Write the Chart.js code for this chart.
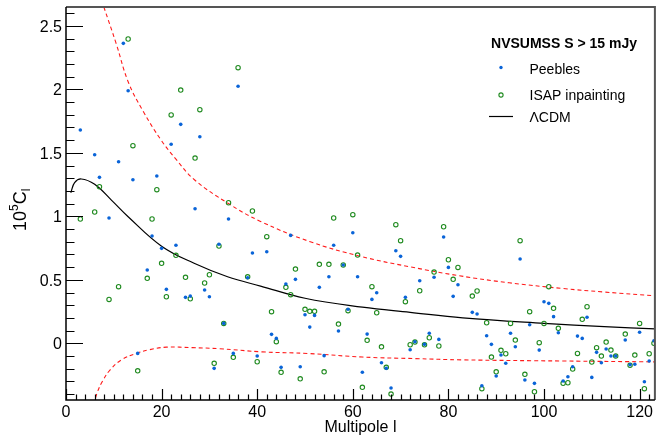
<!DOCTYPE html>
<html>
<head>
<meta charset="utf-8">
<title>NVSUMSS angular power spectrum</title>
<script src="https://cdn.jsdelivr.net/npm/chart.js@4.4.0/dist/chart.umd.min.js"></script>
<style>
  html, body { margin: 0; padding: 0; background: #fff; }
  #wrap { width: 660px; height: 439px; }
</style>
</head>
<body>
<div id="wrap"><canvas id="cl-chart" width="660" height="439"></canvas></div>
<script>
// multipoles with a measured C_l inside the plotted range
const multipoles = [
  3, 6, 7, 9, 11, 12, 13, 14, 15,
  17, 18, 19, 20, 21, 22, 23, 24, 25, 26, 27, 28, 29, 30, 31, 32, 33, 34, 35, 36,
  38, 39, 40,
  42, 43, 44, 45, 46, 47, 48, 49, 50, 51, 52, 53, 54, 55, 56, 57, 58, 59, 60, 61,
  62, 63, 64, 65, 66, 67, 68, 69, 70, 71, 72, 73, 74, 75, 76, 77, 78, 79, 80, 81, 82,
  85, 86, 87, 88, 89, 90, 91, 92, 93, 94, 95, 96, 97, 98, 99, 100, 101, 102, 103,
  104, 105, 106, 107, 108, 109, 110, 111, 112, 113, 114, 115,
  117, 118, 119, 120, 121, 122, 123,
];

// 10^5 C_l, Peebles estimator
const peeblesCl = [
  1.68, 1.485, 1.307, 0.987, 1.43, 2.362, 1.989, 1.288, -0.079,
  0.577, 0.845, 1.317, 0.748, 0.425, 1.567, 0.772, 1.724, 0.362, 0.372, 1.06, 1.627, 0.42, 0.367, -0.197, 0.78, 0.157, 0.979, -0.079, 2.024,
  0.517, 0.711, -0.1,
  0.721, 0.071, 0.039, -0.189, 0.467, 0.85, 0.504, -0.184, 0.225, 0.128, 0.22, 0.441, -0.097, 0.524, 0.772, 0.097, 0.617, 0.268, 0.871, 0.524,
  -0.228, 0.073, 0.346, 0.398, -0.153, -0.197, -0.352, 0.729, 0.685, 0.362, -0.05, 0.013, 0.493, -0.008, 0.079, 0.52, 0.031, 0.837, 0.598, 0.37, 0.461,
  0.244, 0.231, -0.334, 0.06, -0.008, -0.257, -0.092, -0.157, 0.079, -0.027, 0.664, -0.289, 0.146, -0.315, -0.053, 0.328, 0.315, 0.21, 0.083,
  -0.297, -0.263, -0.184, 0.057, 0.039, 0.205, -0.268, -0.071, -0.153, -0.045, -0.1, -0.1,
  0.026, -0.168, -0.165, 0.087, -0.302, -0.139, 0.02,
];

// 10^5 C_l, ISAP inpainting (l = 12 falls outside the range)
const isapCl = [
  0.979, 1.034, 1.233, 0.346, 0.446, null, 2.396, 1.556, -0.216,
  0.512, 0.979, 1.21, 0.63, 0.367, 1.798, 0.693, 1.994, 0.52, 0.351, 1.459, 1.84, 0.475, 0.54, -0.157, 0.766, 0.157, 1.107, -0.11, 2.17,
  0.524, 1.042, -0.145,
  0.84, 0.249, 0.013, -0.228, 0.441, 0.383, 0.585, -0.279, 0.268, 0.252, 0.252, 0.622, -0.224, 0.622, 0.987, 0.152, 0.617, 0.257, 1.013, 0.695,
  -0.346, 0.024, 0.446, 0.241, -0.027, -0.189, -0.399, 0.934, 0.808, 0.328, -0.011, 0.01, 0.414, -0.011, 0.044, 0.561, -0.021, 0.918, 0.658, 0.504, 0.598,
  0.372, 0.412, -0.357, 0.162, -0.108, -0.224, -0.055, -0.082, 0.157, 0.026, 0.808, -0.244, 0.249, -0.381, 0.005, 0.157, 0.446, 0.276, 0.118,
  -0.315, -0.31, -0.202, -0.079, 0.189, 0.288, -0.147, -0.034, -0.1, 0.01, -0.053, -0.1,
  0.073, -0.173, -0.092, 0.157, -0.357, -0.082, 0.0,
];

// LCDM prediction
const lcdmL = [1, 1.8, 3.2, 6, 9.5, 13, 20, 26.8, 33.8, 40.7, 50, 62, 72, 83, 100, 112.6, 123.5];
const lcdmCl = [1.186, 1.265, 1.294, 1.252, 1.128, 0.997, 0.765, 0.63, 0.524, 0.451, 0.355, 0.285, 0.244, 0.2, 0.157, 0.131, 0.113];

// cosmic variance envelope around LCDM
const upperL = [7.9, 10.5, 13, 16.1, 19.9, 23, 26.8, 33.8, 40.7, 51.1, 61.5, 71.9, 82.3, 92.7, 103.9, 112.6, 123.5];
const upperCl = [2.65, 2.36, 2.06, 1.83, 1.6, 1.45, 1.29, 1.105, 0.96, 0.8, 0.686, 0.603, 0.532, 0.477, 0.432, 0.404, 0.374];
const lowerL = [5.8, 6.6, 7.6, 9.2, 11.6, 14.7, 17.5, 21, 26.5, 32, 41, 50.8, 62, 73, 83, 104, 123.5];
const lowerCl = [-0.48, -0.38, -0.3, -0.21, -0.13, -0.079, -0.05, -0.03, -0.034, -0.042, -0.067, -0.08, -0.108, -0.12, -0.13, -0.139, -0.146];

const xTicks = [0, 20, 40, 60, 80, 100, 120];
const yTicks = [0, 0.5, 1, 1.5, 2, 2.5];

const FONT = '"Liberation Sans", Arial, Helvetica, sans-serif';
const BLUE = "#0a64d8";
const GREEN = "#1f8a1f";

function toPoints(ls, vals) {
  return ls.map((l, i) => ({ x: l, y: vals[i] }));
}

// ROOT-like frame: inward ticks, labels, titles and the legend box
const rootFrame = {
  id: "rootFrame",
  afterDraw(chart) {
    const { ctx, chartArea: a } = chart;
    const xs = chart.scales.x;
    const ys = chart.scales.y;
    ctx.save();

    ctx.strokeStyle = "#555";
    ctx.lineWidth = 2;
    ctx.beginPath();
    ctx.moveTo(a.left, a.top);
    ctx.lineTo(a.right, a.top);
    ctx.lineTo(a.right, a.bottom);
    ctx.stroke();

    ctx.strokeStyle = "#000";
    ctx.lineWidth = 1.5;
    ctx.beginPath();
    ctx.moveTo(a.left, a.top);
    ctx.lineTo(a.left, a.bottom);
    ctx.lineTo(a.right, a.bottom);
    ctx.stroke();

    // y ticks every 0.1, long ones on the labelled values
    ctx.lineWidth = 1.2;
    ctx.beginPath();
    for (let i = Math.ceil(ys.min * 10); i <= Math.floor(ys.max * 10); i++) {
      const py = Math.round(ys.getPixelForValue(i / 10)) + 0.5;
      const len = i % 5 === 0 ? 17 : 8.5;
      ctx.moveTo(a.left, py);
      ctx.lineTo(a.left + len, py);
    }
    // x ticks every 2
    for (let l = 0; l <= xs.max; l += 2) {
      const px = Math.round(xs.getPixelForValue(l)) + 0.5;
      const len = l % 20 === 0 ? 11 : 5.5;
      ctx.moveTo(px, a.bottom);
      ctx.lineTo(px, a.bottom - len);
    }
    ctx.stroke();

    ctx.fillStyle = "#000";
    ctx.font = "16px " + FONT;
    ctx.textAlign = "right";
    ctx.textBaseline = "alphabetic";
    yTicks.forEach((v) => {
      ctx.fillText(String(v), a.left - 4, ys.getPixelForValue(v) + 6);
    });
    ctx.textAlign = "center";
    xTicks.forEach((v) => {
      ctx.fillText(String(v), xs.getPixelForValue(v), a.bottom + 17);
    });

    ctx.fillText("Multipole l", (a.left + a.right) / 2, 432);

    // 10^5 C_l, rotated
    ctx.save();
    ctx.translate(26, 231);
    ctx.rotate(-Math.PI / 2);
    ctx.textAlign = "left";
    let cx = 0;
    ctx.font = "18px " + FONT;
    ctx.fillText("10", cx, 0);
    cx += ctx.measureText("10").width;
    ctx.font = "12px " + FONT;
    ctx.fillText("5", cx, -8);
    cx += ctx.measureText("5").width;
    ctx.font = "18px " + FONT;
    ctx.fillText("C", cx, 0);
    cx += ctx.measureText("C").width;
    ctx.font = "12px " + FONT;
    ctx.fillText("l", cx, 4);
    ctx.restore();

    // legend
    ctx.textAlign = "center";
    ctx.font = "bold 14px " + FONT;
    ctx.fillText("NVSUMSS S > 15 mJy", 564, 47.5);
    ctx.textAlign = "left";
    ctx.font = "14px " + FONT;
    ctx.fillText("Peebles", 529.5, 73.5);
    ctx.fillText("ISAP inpainting", 529.5, 99.5);
    ctx.fillText("\u039BCDM", 529.5, 122);

    ctx.fillStyle = BLUE;
    ctx.beginPath();
    ctx.arc(501, 67.5, 1.7, 0, Math.PI * 2);
    ctx.fill();
    ctx.strokeStyle = GREEN;
    ctx.lineWidth = 1.1;
    ctx.beginPath();
    ctx.arc(501, 95, 2.1, 0, Math.PI * 2);
    ctx.stroke();
    ctx.strokeStyle = "#000";
    ctx.lineWidth = 1.2;
    ctx.beginPath();
    ctx.moveTo(489, 116.5);
    ctx.lineTo(513, 116.5);
    ctx.stroke();

    ctx.restore();
  },
};

const canvas = document.querySelector("#cl-chart");

const curveStyle = {
  showLine: true,
  pointRadius: 0,
  tension: 0.4,
  order: 1,
};

const chart = new Chart(canvas, {
  type: "scatter",
  data: {
    datasets: [
      {
        label: "Peebles",
        data: toPoints(multipoles, peeblesCl),
        backgroundColor: BLUE,
        borderColor: BLUE,
        borderWidth: 0,
        pointRadius: 1.8,
        order: 0,
      },
      {
        label: "ISAP inpainting",
        data: toPoints(multipoles, isapCl),
        backgroundColor: "rgba(0,0,0,0)",
        borderColor: GREEN,
        borderWidth: 1.1,
        pointRadius: 2.2,
        order: 0,
      },
      {
        ...curveStyle,
        label: "\u039BCDM",
        data: toPoints(lcdmL, lcdmCl),
        borderColor: "#000",
        borderWidth: 1.2,
      },
      {
        ...curveStyle,
        label: "upper",
        data: toPoints(upperL, upperCl),
        borderColor: "#ff1a1a",
        borderWidth: 1.1,
        borderDash: [4, 3],
      },
      {
        ...curveStyle,
        label: "lower",
        data: toPoints(lowerL, lowerCl),
        borderColor: "#ff1a1a",
        borderWidth: 1.1,
        borderDash: [4, 3],
      },
    ],
  },
  options: {
    responsive: false,
    animation: false,
    devicePixelRatio: 1,
    layout: { padding: { left: 66, right: 1, top: 7, bottom: 39 } },
    plugins: {
      legend: { display: false },
      tooltip: { enabled: false },
    },
    scales: {
      x: { type: "linear", min: 0, max: 123.2, display: false },
      y: { type: "linear", min: -0.446, max: 2.648, display: false },
    },
  },
  plugins: [rootFrame],
});
</script>
</body>
</html>
